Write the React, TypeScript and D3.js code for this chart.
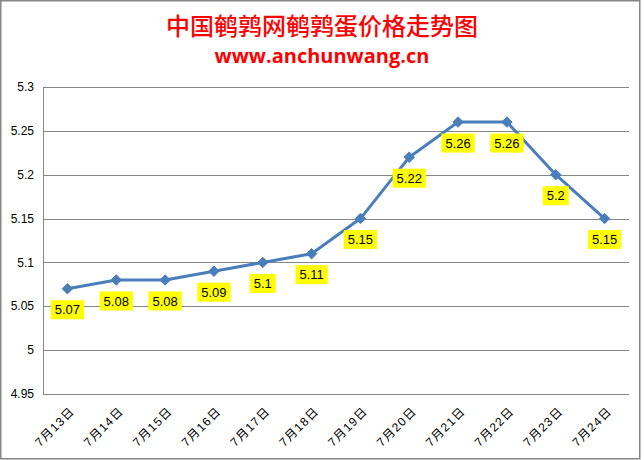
import React, { useEffect, useRef } from "react";
import * as d3 from "d3";

// categories and values
const dates = [
  "7月13日",
  "7月14日",
  "7月15日",
  "7月16日",
  "7月17日",
  "7月18日",
  "7月19日",
  "7月20日",
  "7月21日",
  "7月22日",
  "7月23日",
  "7月24日",
];
const prices = [5.07, 5.08, 5.08, 5.09, 5.1, 5.11, 5.15, 5.22, 5.26, 5.26, 5.2, 5.15];
const yTicks = [4.95, 5, 5.05, 5.1, 5.15, 5.2, 5.25, 5.3];

const title = "中国鹌鹑网鹌鹑蛋价格走势图";
const subtitle = "www.anchunwang.cn";

const FONT = "'Liberation Sans', 'Noto Sans CJK SC', sans-serif";

export const PriceChart = () => {
  const svgRef = useRef<SVGSVGElement>(null);

  useEffect(() => {
    // clear before rendering
    d3.select(svgRef.current).selectChildren().remove();

    const W = 644,
      H = 460;
    const margin = { top: 87, right: 15, bottom: 66, left: 43 };
    const width = W - margin.left - margin.right;
    const height = H - margin.top - margin.bottom;

    const root = d3.select(svgRef.current).attr("width", W).attr("height", H);

    // outer frame
    root
      .append("rect")
      .attr("x", 0.75)
      .attr("y", 0.75)
      .attr("width", 639)
      .attr("height", 458)
      .attr("fill", "#fff")
      .attr("stroke", "#868686")
      .attr("stroke-width", 1.5);

    // titles
    root
      .append("text")
      .attr("x", 322)
      .attr("y", 35)
      .attr("text-anchor", "middle")
      .attr("fill", "#ff0000")
      .style("font-family", "'Noto Sans CJK SC', sans-serif")
      .style("font-weight", 500)
      .style("font-size", "24px")
      .text(title);
    root
      .append("text")
      .attr("x", 322)
      .attr("y", 63)
      .attr("text-anchor", "middle")
      .attr("fill", "#ff0000")
      .style("font-family", "'Open Sans', sans-serif")
      .style("font-weight", "bold")
      .style("font-size", "20px")
      .text(subtitle);

    const svg = root
      .append("g")
      .attr("transform", "translate(" + margin.left + "," + margin.top + ")");

    const x = d3.scaleBand().domain(dates).range([0, width]);
    const y = d3.scaleLinear().domain([4.95, 5.3]).range([height, 0]);

    // gridlines
    svg
      .append("g")
      .selectAll("line")
      .data(yTicks)
      .enter()
      .append("line")
      .attr("x1", 0)
      .attr("x2", width)
      .attr("y1", (d) => Math.round(y(d)) + 0.5)
      .attr("y2", (d) => Math.round(y(d)) + 0.5)
      .attr("stroke", "#868686")
      .attr("stroke-width", 1);

    // y axis line
    svg
      .append("line")
      .attr("x1", 0.5)
      .attr("x2", 0.5)
      .attr("y1", Math.round(y(5.3)) + 0.5)
      .attr("y2", Math.round(y(4.95)) + 0.5)
      .attr("stroke", "#868686");

    // y labels
    svg
      .append("g")
      .selectAll("text")
      .data(yTicks)
      .enter()
      .append("text")
      .attr("x", -9)
      .attr("y", (d) => y(d))
      .attr("dy", "0.35em")
      .attr("text-anchor", "end")
      .style("font-family", FONT)
      .style("font-size", "12px")
      .attr("fill", "#000")
      .text((d) => String(d));

    // x labels
    svg
      .append("g")
      .selectAll("text")
      .data(dates)
      .enter()
      .append("text")
      .attr(
        "transform",
        (d) =>
          "translate(" + ((x(d) || 0) + x.bandwidth() / 2 + 5) + "," + (height + 15) + ") rotate(-45)"
      )
      .attr("text-anchor", "end")
      .attr("dy", "0.35em")
      .style("font-family", FONT)
      .style("font-size", "12px")
      .style("letter-spacing", "1.2px")
      .attr("fill", "#000")
      .text((d) => d);

    const cx = (i: number) => (x(dates[i]) || 0) + x.bandwidth() / 2;

    // line
    const line = d3
      .line<number>()
      .x((d, i) => cx(i))
      .y((d) => y(d));
    svg
      .append("path")
      .datum(prices)
      .attr("fill", "none")
      .attr("stroke", "#4a7ebb")
      .attr("stroke-width", 3)
      .attr("stroke-linejoin", "round")
      .attr("d", line);

    // diamond markers
    const diamond = d3.symbol().type(d3.symbolDiamond2).size(70);
    svg
      .append("g")
      .selectAll("path")
      .data(prices)
      .enter()
      .append("path")
      .attr("d", diamond)
      .attr("transform", (d, i) => "translate(" + cx(i) + "," + y(d) + ")")
      .attr("fill", "#4a7ebb")
      .attr("stroke", "#4a7ebb")
      .attr("stroke-width", 1);

    // data labels with yellow boxes
    const labels = svg
      .append("g")
      .selectAll("g")
      .data(prices)
      .enter()
      .append("g")
      .attr("transform", (d, i) => "translate(" + cx(i) + "," + (y(d) + 21) + ")");
    const texts = labels
      .append("text")
      .attr("text-anchor", "middle")
      .attr("dy", "0.36em")
      .style("font-family", FONT)
      .style("font-size", "13px")
      .attr("fill", "#000")
      .text((d) => String(d));
    texts.each(function () {
      const bb = (this as SVGTextElement).getBBox();
      d3.select((this as SVGTextElement).parentNode as SVGGElement)
        .insert("rect", "text")
        .attr("x", bb.x - 4)
        .attr("y", -9.5)
        .attr("width", bb.width + 8)
        .attr("height", 19)
        .attr("fill", "#ffff00");
    });
  }, []);

  return <svg ref={svgRef} style={{ position: "absolute", left: 0, top: 0 }}></svg>;
};

export default function App() {
  return <PriceChart />;
}
